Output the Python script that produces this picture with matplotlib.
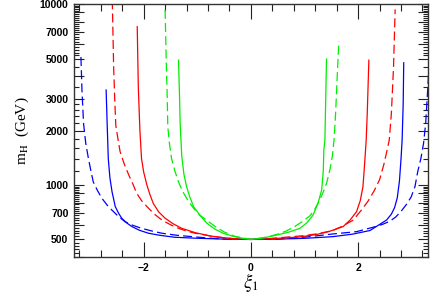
import numpy as np
import matplotlib
matplotlib.use('Agg')
import matplotlib.pyplot as plt
from matplotlib.ticker import FixedLocator, NullFormatter, FixedFormatter

plt.rcParams['lines.scale_dashes'] = False
plt.rcParams['mathtext.fontset'] = 'stix'

# --- curves: xi_1 vs m_H (GeV) ---
blue_solid_xi = [-2.70, -2.68, -2.66, -2.63, -2.59, -2.53, -2.47, -2.41, -2.32, -2.22, -2.08, -1.91, -1.70,
                 -1.42, -1.04, -0.5, 0.0, 0.5, 1.0, 1.53, 1.90, 2.22, 2.40, 2.53, 2.62, 2.68, 2.73,
                 2.77, 2.80, 2.82, 2.84, 2.85]
blue_solid_m = [3350, 2140, 1400, 1100, 918, 760, 700, 655, 618, 589, 562, 541, 527,
                514, 508, 502, 500, 502, 507, 518, 535, 560, 605, 640, 690, 750, 850,
                1050, 1400, 1770, 2800, 4740]

blue_dash_xi = [-3.17, -3.15, -3.12, -3.08, -3.03, -2.98, -2.94, -2.86, -2.78, -2.66, -2.50, -2.35, -2.20,
                -2.04, -1.85, -1.66, -1.40, -1.10, -0.8, -0.5, 0.0, 0.5, 0.8, 1.1, 1.5, 1.97, 2.28,
                2.45, 2.59, 2.70, 2.80, 2.90, 2.99, 3.06, 3.11, 3.17, 3.22, 3.26, 3.30, 3.32]
blue_dash_m = [5100, 3300, 2170, 1700, 1400, 1180, 1040, 930, 845, 760, 683, 627, 598,
               576, 557, 541, 528, 518, 509, 503, 500, 503, 509, 518, 535, 552, 584,
               605, 630, 665, 715, 780, 860, 980, 1180, 1400, 1700, 2200, 3490, 4500]

red_solid_xi = [-2.12, -2.10, -2.08, -2.07, -2.04, -2.00, -1.94, -1.88, -1.82, -1.72, -1.60, -1.45, -1.29,
                -1.04, -0.75, -0.5, -0.25, 0.0, 0.25, 0.5, 0.91, 1.22, 1.45, 1.72, 1.85, 1.97,
                2.04, 2.09, 2.12, 2.15, 2.17, 2.20]
red_solid_m = [7500, 3500, 2400, 2000, 1400, 1180, 1000, 880, 790, 710, 655, 610, 576,
               545, 522, 511, 503, 500, 503, 507, 516, 532, 552, 589, 640, 712,
               820, 980, 1300, 1770, 2500, 4900]

red_dash_xi = [-2.585, -2.56, -2.54, -2.52, -2.48, -2.44, -2.36, -2.28, -2.20, -2.13, -2.04, -1.94, -1.80,
               -1.66, -1.50, -1.35, -1.20, -1.04, -0.75, -0.5, -0.25, 0.0, 0.25, 0.5, 1.0, 1.25,
               1.53, 1.72, 1.91, 2.05, 2.18, 2.30, 2.40, 2.48, 2.54, 2.58, 2.62, 2.66, 2.69]
red_dash_m = [10500, 4500, 3000, 2140, 1800, 1530, 1300, 1140, 1010, 900, 820, 760, 690,
              640, 603, 576, 556, 541, 522, 510, 503, 500, 503, 510, 525, 538,
              560, 595, 640, 720, 810, 930, 1070, 1300, 1560, 1770, 2500, 4500, 9350]

green_solid_xi = [-1.35, -1.33, -1.32, -1.29, -1.25, -1.20, -1.14, -1.07, -0.95, -0.82, -0.67, -0.52, -0.35,
                  -0.20, 0.0, 0.2, 0.35, 0.52, 0.7, 0.91, 1.05, 1.16, 1.25, 1.32, 1.35,
                  1.36, 1.38, 1.39, 1.41]
green_solid_m = [4900, 3000, 2200, 1450, 1150, 980, 860, 760, 680, 614, 570, 541, 522,
                 510, 500, 508, 518, 532, 548, 575, 620, 683, 790, 938, 1200,
                 1560, 1770, 2500, 4970]

green_dash_xi = [-1.60, -1.58, -1.56, -1.55, -1.52, -1.48, -1.42, -1.35, -1.28, -1.20, -1.07, -0.95, -0.8,
                 -0.65, -0.5, -0.3, 0.0, 0.3, 0.5, 0.65, 0.8, 0.95, 1.10, 1.18, 1.25,
                 1.34, 1.41, 1.47, 1.52, 1.55, 1.58, 1.61, 1.64]
green_dash_m = [9300, 5000, 3000, 2100, 1700, 1400, 1200, 1040, 930, 845, 743, 680, 630,
                585, 550, 520, 500, 515, 535, 555, 585, 625, 675, 725, 790,
                900, 1020, 1200, 1450, 1770, 2500, 4000, 6230]

ytick_vals = [500, 700, 1000, 2000, 3000, 5000, 7000, 10000]

fig = plt.figure(figsize=(4.3, 2.94), dpi=100)
ax = fig.add_axes([0.172, 0.126, 0.823, 0.860])

dash = (6.5, 3.0)
lw = 0.9
ax.plot(blue_solid_xi, blue_solid_m, color='#0000ff', lw=lw)
ax.plot(blue_dash_xi, blue_dash_m, color='#0000ff', lw=lw, dashes=dash)
ax.plot(red_solid_xi, red_solid_m, color='#ff0000', lw=lw)
ax.plot(red_dash_xi, red_dash_m, color='#ff0000', lw=lw, dashes=dash)
ax.plot(green_solid_xi, green_solid_m, color='#00ee00', lw=lw)
ax.plot(green_dash_xi, green_dash_m, color='#00ee00', lw=lw, dashes=dash)

ax.set_yscale('log')
ax.set_xlim(-3.3, 3.3)
ax.set_ylim(400, 10000)

# ticks
ax.xaxis.set_major_locator(FixedLocator([-2, 0, 2]))
ax.xaxis.set_minor_locator(FixedLocator(np.arange(-3.2, 3.3, 0.4)))
ax.set_xticklabels(['\u22122', '0', '2'])

major_y = list(range(400, 1000, 100)) + list(range(1000, 10001, 1000))
minor_y = list(range(400, 1000, 20)) + list(range(1000, 3000, 200)) + list(range(3000, 5000, 500)) + list(range(5000, 10000, 200))
ax.yaxis.set_major_locator(FixedLocator(major_y))
ax.yaxis.set_major_formatter(FixedFormatter([str(v) if v in ytick_vals else '' for v in major_y]))
ax.yaxis.set_minor_locator(FixedLocator(minor_y))
ax.yaxis.set_minor_formatter(NullFormatter())

ax.tick_params(which='both', direction='in', top=True, right=True, width=0.8, color='#222222')
ax.tick_params(axis='x', which='major', length=11, pad=4)
ax.tick_params(axis='x', which='minor', length=5)
ax.tick_params(axis='y', which='major', length=7, pad=4)
ax.tick_params(axis='y', which='minor', length=3.5)
for lab in ax.get_xticklabels() + ax.get_yticklabels():
    lab.set_fontsize(7.5)
    lab.set_fontweight('bold')
    lab.set_family('Liberation Sans')

for s in ax.spines.values():
    s.set_linewidth(1.0)
    s.set_color('#333333')

ax.set_ylabel(r'm$_\mathrm{H}$  (GeV)', family='Liberation Serif', fontsize=11, labelpad=6)
ax.set_xlabel(r'$\xi_1$', fontsize=13.5, labelpad=-1)

fig.savefig('out.png', dpi=100)
